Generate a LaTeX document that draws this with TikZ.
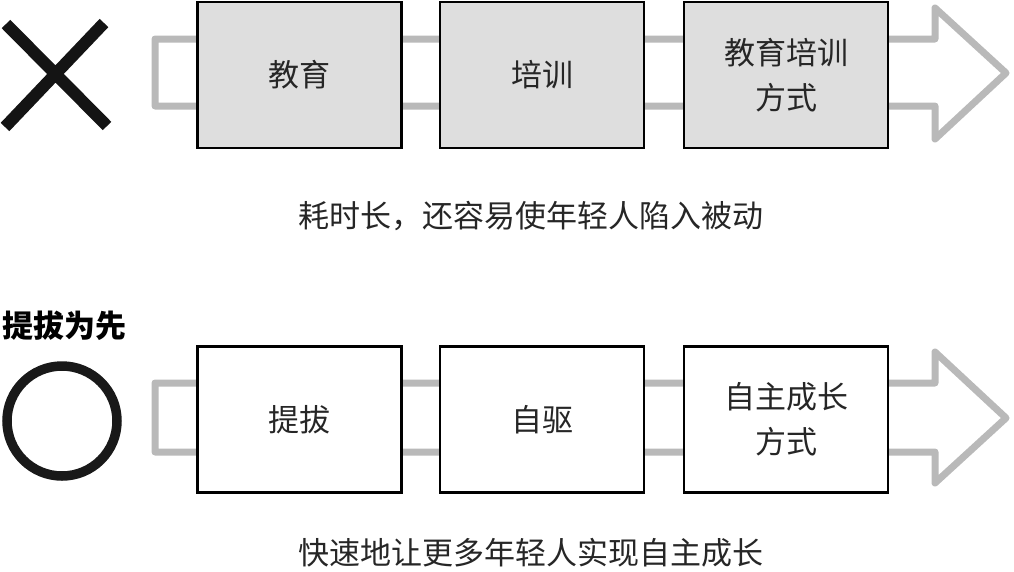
\documentclass[tikz,border=0pt]{standalone}
\usepackage{fontspec}
\setmainfont{Noto Sans CJK SC}
\newfontfamily\cjk{Noto Sans CJK SC}
\definecolor{arrowgray}{HTML}{B9B9B9}
\definecolor{boxgray}{HTML}{DEDEDE}
\tikzset{
  stepbox/.style={draw=black, line width=2.3pt, minimum width=204pt, minimum height=146pt, inner sep=0pt, align=center, font=\cjk\fontsize{31}{45}\selectfont, text=black!85},
  graybox/.style={stepbox, fill=boxgray},
  whitebox/.style={stepbox, fill=white},
  bigarrow/.style={draw=arrowgray, line width=7pt, line join=round},
  caption/.style={font=\cjk\fontsize{31}{36}\selectfont, text=black!85, inner sep=0pt},
}
\begin{document}
\begin{tikzpicture}[x=1pt,y=-1pt]
\useasboundingbox (0,0) rectangle (1014,571);
% top arrow
\draw[bigarrow] (155,39) -- (935,39) -- (935,8) -- (1006,73) -- (935,139) -- (935,106) -- (155,106) -- cycle;
% bottom arrow
\draw[bigarrow] (155,383) -- (935,383) -- (935,352) -- (1006,418) -- (935,483) -- (935,452) -- (155,452) -- cycle;
% cross
\draw[line width=12pt, black!92] (6,24) -- (107,126) (104,23) -- (5,127);
% circle
\draw[line width=9.5pt, black!90] (62,421) circle (55);
\node[font=\cjk\bfseries\fontsize{31}{36}\selectfont, inner sep=0pt, anchor=west] (title) at (2,326) {提拔为先};
% boxes top
\node[graybox] (b1) at (299.5,75) {\raisebox{-3pt}{教育}};
\node[graybox] (b2) at (542,75) {\raisebox{-3pt}{培训}};
\node[graybox, yshift=-2pt] (b3) at (786,73) {教育培训\\方式};
\node[caption] (c1) at (531,216) {耗时长，还容易使年轻人陷入被动};
% boxes bottom
\node[whitebox] (d1) at (299.5,419.5) {\raisebox{-3pt}{提拔}};
\node[whitebox] (d2) at (542,419.5) {\raisebox{-3pt}{自驱}};
\node[whitebox, yshift=-2pt] (d3) at (786,417.5) {自主成长\\方式};
\node[caption] (c2) at (531,553) {快速地让更多年轻人实现自主成长};
\end{tikzpicture}
\end{document}
